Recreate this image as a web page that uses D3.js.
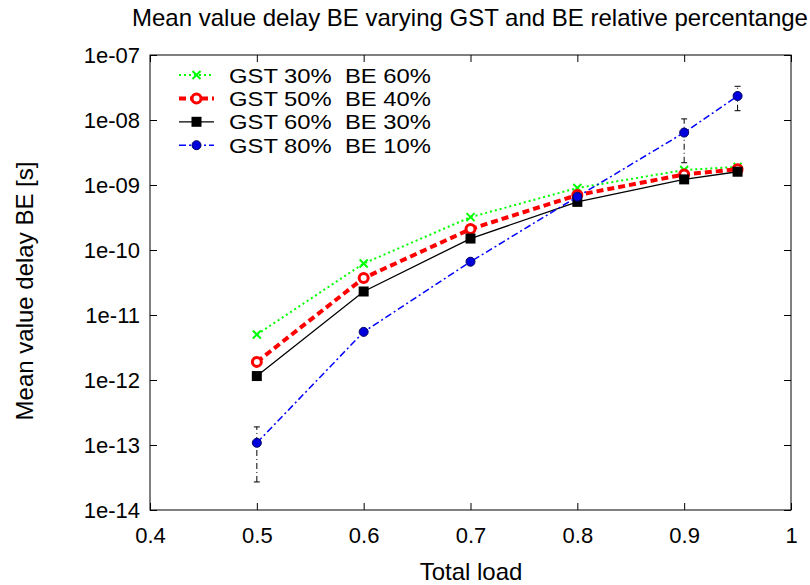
<!DOCTYPE html>
<html><head><meta charset="utf-8">
<script src="https://cdn.jsdelivr.net/npm/d3@7"></script>
<style>body{margin:0;background:#fff}svg{display:block}text{font-family:"Liberation Sans",Arial,sans-serif;fill:#000}</style>
</head><body><svg id="c" width="810" height="585"></svg>
<script>
const loads = [0.5, 0.6, 0.7, 0.8, 0.9, 0.95];
const gst30 = [5.0e-12, 6.2e-11, 3.2e-10, 9.0e-10, 1.7e-9, 1.9e-9];
const gst50 = [1.9e-12, 3.7e-11, 2.1e-10, 7.0e-10, 1.45e-9, 1.75e-9];
const gst60 = [1.15e-12, 2.3e-11, 1.5e-10, 5.5e-10, 1.22e-9, 1.6e-9];
const gst80 = [1.08e-13, 5.5e-12, 6.6e-11, 6.6e-10, 6.4e-9, 2.34e-8];
const gst80Low = [2.7e-14, 5.3e-12, 6.4e-11, 6.4e-10, 2.2e-9, 1.39e-8];
const gst80High = [1.9e-13, 5.7e-12, 6.8e-11, 6.8e-10, 1.04e-8, 3.3e-8];
const seriesNames = ["GST 30%\u00a0\u00a0BE 60%", "GST 50%\u00a0\u00a0BE 40%", "GST 60%\u00a0\u00a0BE 30%", "GST 80%\u00a0\u00a0BE 10%"];
const xTicks = [0.4, 0.5, 0.6, 0.7, 0.8, 0.9, 1];
const yTicks = [1e-14, 1e-13, 1e-12, 1e-11, 1e-10, 1e-9, 1e-8, 1e-7];
const yTickLabels = ["1e-14", "1e-13", "1e-12", "1e-11", "1e-10", "1e-09", "1e-08", "1e-07"];
const title = "Mean value delay BE varying GST and BE relative percentange";

const svg = d3.select("#c");
const L = 150, R = 791, T = 55, B = 510;
const x = d3.scaleLinear().domain([0.4, 1]).range([L, R]);
const y = d3.scaleLog().domain([1e-14, 1e-7]).range([B, T]);

// frame
svg.append("rect").attr("x", L).attr("y", T).attr("width", R - L).attr("height", B - T)
  .attr("fill", "none").attr("stroke", "#000").attr("stroke-width", 1);

// axes ticks (inward, mirrored)
const tl = 7;
const gx = svg.append("g").attr("transform", `translate(0,${B})`)
  .call(d3.axisBottom(x).tickValues(xTicks).tickFormat(d => d === 1 ? "1" : d3.format(".1f")(d)).tickSizeInner(-tl).tickSizeOuter(0).tickPadding(17));
const gxt = svg.append("g").attr("transform", `translate(0,${T})`)
  .call(d3.axisTop(x).tickValues(xTicks).tickFormat("").tickSizeInner(-tl).tickSizeOuter(0));
const gy = svg.append("g").attr("transform", `translate(${L},0)`)
  .call(d3.axisLeft(y).tickValues(yTicks).tickFormat((d, i) => yTickLabels[i]).tickSizeInner(-tl).tickSizeOuter(0).tickPadding(10));
const gyr = svg.append("g").attr("transform", `translate(${R},0)`)
  .call(d3.axisRight(y).tickValues(yTicks).tickFormat("").tickSizeInner(-tl).tickSizeOuter(0));
[gx, gxt, gy, gyr].forEach(g => {
  g.select(".domain").remove();
  g.selectAll("line").attr("stroke", "#000");
  g.selectAll("text").attr("font-size", 22).attr("font-family", "Liberation Sans, Arial, sans-serif");
});

// title and labels
svg.append("text").attr("x", 470).attr("y", 26).attr("text-anchor", "middle").attr("font-size", 24).text(title);
svg.append("text").attr("x", 471).attr("y", 580).attr("text-anchor", "middle").attr("font-size", 24).text("Total load");
svg.append("text").attr("transform", "translate(33,291) rotate(-90)").attr("text-anchor", "middle").attr("font-size", 24).text("Mean value delay BE [s]");

const styles = [
  {data: gst30, color: "#00ff00", w: 2, dash: "2,3", marker: "x"},
  {data: gst50, color: "#ff0000", w: 4, dash: "7,4", marker: "circle"},
  {data: gst60, color: "#000000", w: 1.3, dash: null, marker: "square"},
  {data: gst80, color: "#0000ff", w: 1.5, dash: "7,3,2,3", marker: "dot"}
];

const line = d3.line().x((d, i) => x(loads[i])).y(d => y(d));

// error bars for series 4
const eb = svg.append("g");
loads.forEach((l, i) => {
  const px = x(l);
  eb.append("line").attr("x1", px).attr("x2", px).attr("y1", y(gst80Low[i])).attr("y2", y(gst80High[i]))
    .attr("stroke", "#000").attr("stroke-width", 1).attr("stroke-dasharray", "6,3,1,3");
  [gst80Low[i], gst80High[i]].forEach(v => {
    eb.append("line").attr("x1", px - 3).attr("x2", px + 3).attr("y1", y(v)).attr("y2", y(v))
      .attr("stroke", "#000").attr("stroke-width", 1);
  });
});

function drawMarker(g, s, px, py) {
  if (s.marker === "x") {
    g.append("path").attr("d", `M${px-4},${py-4}L${px+4},${py+4}M${px-4},${py+4}L${px+4},${py-4}`)
      .attr("stroke", s.color).attr("stroke-width", 2).attr("fill", "none");
  } else if (s.marker === "circle") {
    g.append("circle").attr("cx", px).attr("cy", py).attr("r", 4.5).attr("fill", "#fff")
      .attr("stroke", s.color).attr("stroke-width", 3);
  } else if (s.marker === "square") {
    g.append("rect").attr("x", px - 5).attr("y", py - 5).attr("width", 10).attr("height", 10).attr("fill", "#000");
  } else {
    g.append("circle").attr("cx", px).attr("cy", py).attr("r", 4.5).attr("fill", "#0000dd").attr("stroke", "#000060").attr("stroke-width", 1);
  }
}

styles.forEach(s => {
  const g = svg.append("g");
  g.append("path").datum(s.data).attr("d", line).attr("fill", "none")
    .attr("stroke", s.color).attr("stroke-width", s.w).attr("stroke-dasharray", s.dash);
  s.data.forEach((v, i) => drawMarker(g, s, x(loads[i]), y(v)));
});

// legend
const lg = svg.append("g");
styles.forEach((s, i) => {
  const ly = 75 + i * 23.4;
  lg.append("line").attr("x1", 179).attr("x2", 214).attr("y1", ly).attr("y2", ly)
    .attr("stroke", s.color).attr("stroke-width", s.w).attr("stroke-dasharray", s.dash);
  drawMarker(lg, s, 196.5, ly);
  lg.append("text").attr("x", 229).attr("y", ly + 7.5).attr("font-size", 20.8)
    .attr("textLength", 202).attr("lengthAdjust", "spacingAndGlyphs").text(seriesNames[i]);
});
</script></body></html>
